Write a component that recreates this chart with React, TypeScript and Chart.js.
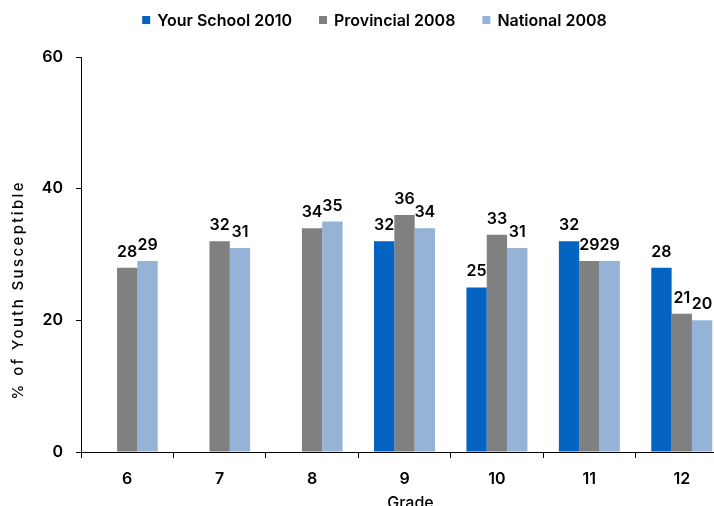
import React, { useEffect, useRef } from 'react';
import { Chart, registerables } from 'chart.js';
Chart.register(...registerables);

const grades = ['6', '7', '8', '9', '10', '11', '12'];
const yourSchool2010: (number | null)[] = [null, null, null, 32, 25, 32, 28];
const provincial2008 = [28, 32, 34, 36, 33, 29, 21];
const national2008 = [29, 31, 35, 34, 31, 29, 20];
const seriesNames = ['Your School 2010', 'Provincial 2008', 'National 2008'];
const seriesColors = ['#0563C1', '#808080', '#95B3D7'];
const yTitle = '% of Youth Susceptible';
const xTitle = 'Grade';
const yMin = 0;
const yMax = 60;
const yStep = 20;

const FONT = "Inter, 'Open Sans', sans-serif";

const valueLabels = {
  id: 'valueLabels',
  afterDatasetsDraw(chart: any) {
    const ctx = chart.ctx;
    ctx.save();
    ctx.font = `600 16px ${FONT}`;
    ctx.fillStyle = '#000';
    ctx.textAlign = 'center';
    ctx.textBaseline = 'alphabetic';
    chart.data.datasets.forEach((ds: any, i: number) => {
      const meta = chart.getDatasetMeta(i);
      meta.data.forEach((el: any, j: number) => {
        const v = ds.data[j];
        if (v === null || v === undefined) return;
        ctx.fillText(String(v), el.x, el.y - 11);
      });
    });
    ctx.restore();
  },
};

const customText = {
  id: 'customText',
  afterDraw(chart: any) {
    const ctx = chart.ctx;
    const area = chart.chartArea;
    ctx.save();
    // legend
    ctx.font = `600 16px ${FONT}`;
    ctx.textBaseline = 'middle';
    ctx.textAlign = 'left';
    const box = 8;
    const boxGap = 7;
    const itemGap = 27;
    const widths = seriesNames.map((n) => ctx.measureText(n).width);
    const total = widths.reduce((a, w) => a + box + boxGap + w, 0) + itemGap * (seriesNames.length - 1);
    let x = 374.5 - total / 2;
    const ly = 20;
    seriesNames.forEach((n, i) => {
      ctx.fillStyle = seriesColors[i];
      ctx.fillRect(x, ly - box / 2, box, box);
      ctx.fillStyle = '#000';
      ctx.fillText(n, x + box + boxGap, ly + 1);
      x += box + boxGap + widths[i] + itemGap;
    });
    // y title
    ctx.font = `500 15px ${FONT}`;
    ctx.textAlign = 'center';
    const target = 217;
    const w0 = ctx.measureText(yTitle).width;
    const ls = Math.max(0, (target - w0) / (yTitle.length - 1));
    (ctx as any).letterSpacing = `${ls}px`;
    ctx.translate(18, 291);
    ctx.rotate(-Math.PI / 2);
    ctx.fillText(yTitle, ls / 2, 0);
    ctx.restore();
    ctx.save();
    ctx.font = `500 16px ${FONT}`;
    ctx.fillStyle = '#000';
    ctx.textAlign = 'center';
    ctx.textBaseline = 'middle';
    ctx.fillText(xTitle, (area.left + area.right) / 2 + 6, 503);
    ctx.restore();
  },
};

export default function App() {
  const ref = useRef<HTMLCanvasElement>(null);
  useEffect(() => {
    if (!ref.current) return;
    const chart = new Chart(ref.current, {
      type: 'bar',
      data: {
        labels: grades,
        datasets: [yourSchool2010, provincial2008, national2008].map((d, i) => ({
          label: seriesNames[i],
          data: d as any,
          backgroundColor: seriesColors[i],
          borderWidth: 0,
          barPercentage: 1,
          categoryPercentage: 0.66,
        })),
      },
      options: {
        responsive: false,
        animation: false,
        layout: { padding: { left: 0, right: 0, top: 57, bottom: 0 } },
        plugins: {
          legend: { display: false },
          tooltip: { enabled: false },
        },
        scales: {
          x: {
            grid: {
              display: true,
              drawOnChartArea: false,
              drawTicks: true,
              tickLength: 6,
              color: '#000',
              offset: true,
            },
            border: { display: true, color: '#000', width: 1 },
            ticks: {
              color: '#000',
              font: { family: FONT, size: 16, weight: '600' as any },
              padding: 12,
            },
            afterFit(s: any) {
              s.height = 54;
            },
          },
          y: {
            min: yMin,
            max: yMax,
            grid: {
              display: true,
              drawOnChartArea: false,
              drawTicks: true,
              tickLength: 5,
              color: '#000',
            },
            border: { display: true, color: '#000', width: 1 },
            ticks: {
              stepSize: yStep,
              color: '#000',
              font: { family: FONT, size: 16, weight: '600' as any },
              padding: 13,
            },
            afterFit(s: any) {
              s.width = 81;
            },
          },
        },
      },
      plugins: [valueLabels, customText],
    });
    return () => chart.destroy();
  }, []);
  return (
    <div style={{ position: 'fixed', left: 0, top: 0, width: 714, height: 506, overflow: 'hidden', background: '#fff' }}>
      <canvas ref={ref} width={728} height={506} style={{ display: 'block' }} />
    </div>
  );
}
